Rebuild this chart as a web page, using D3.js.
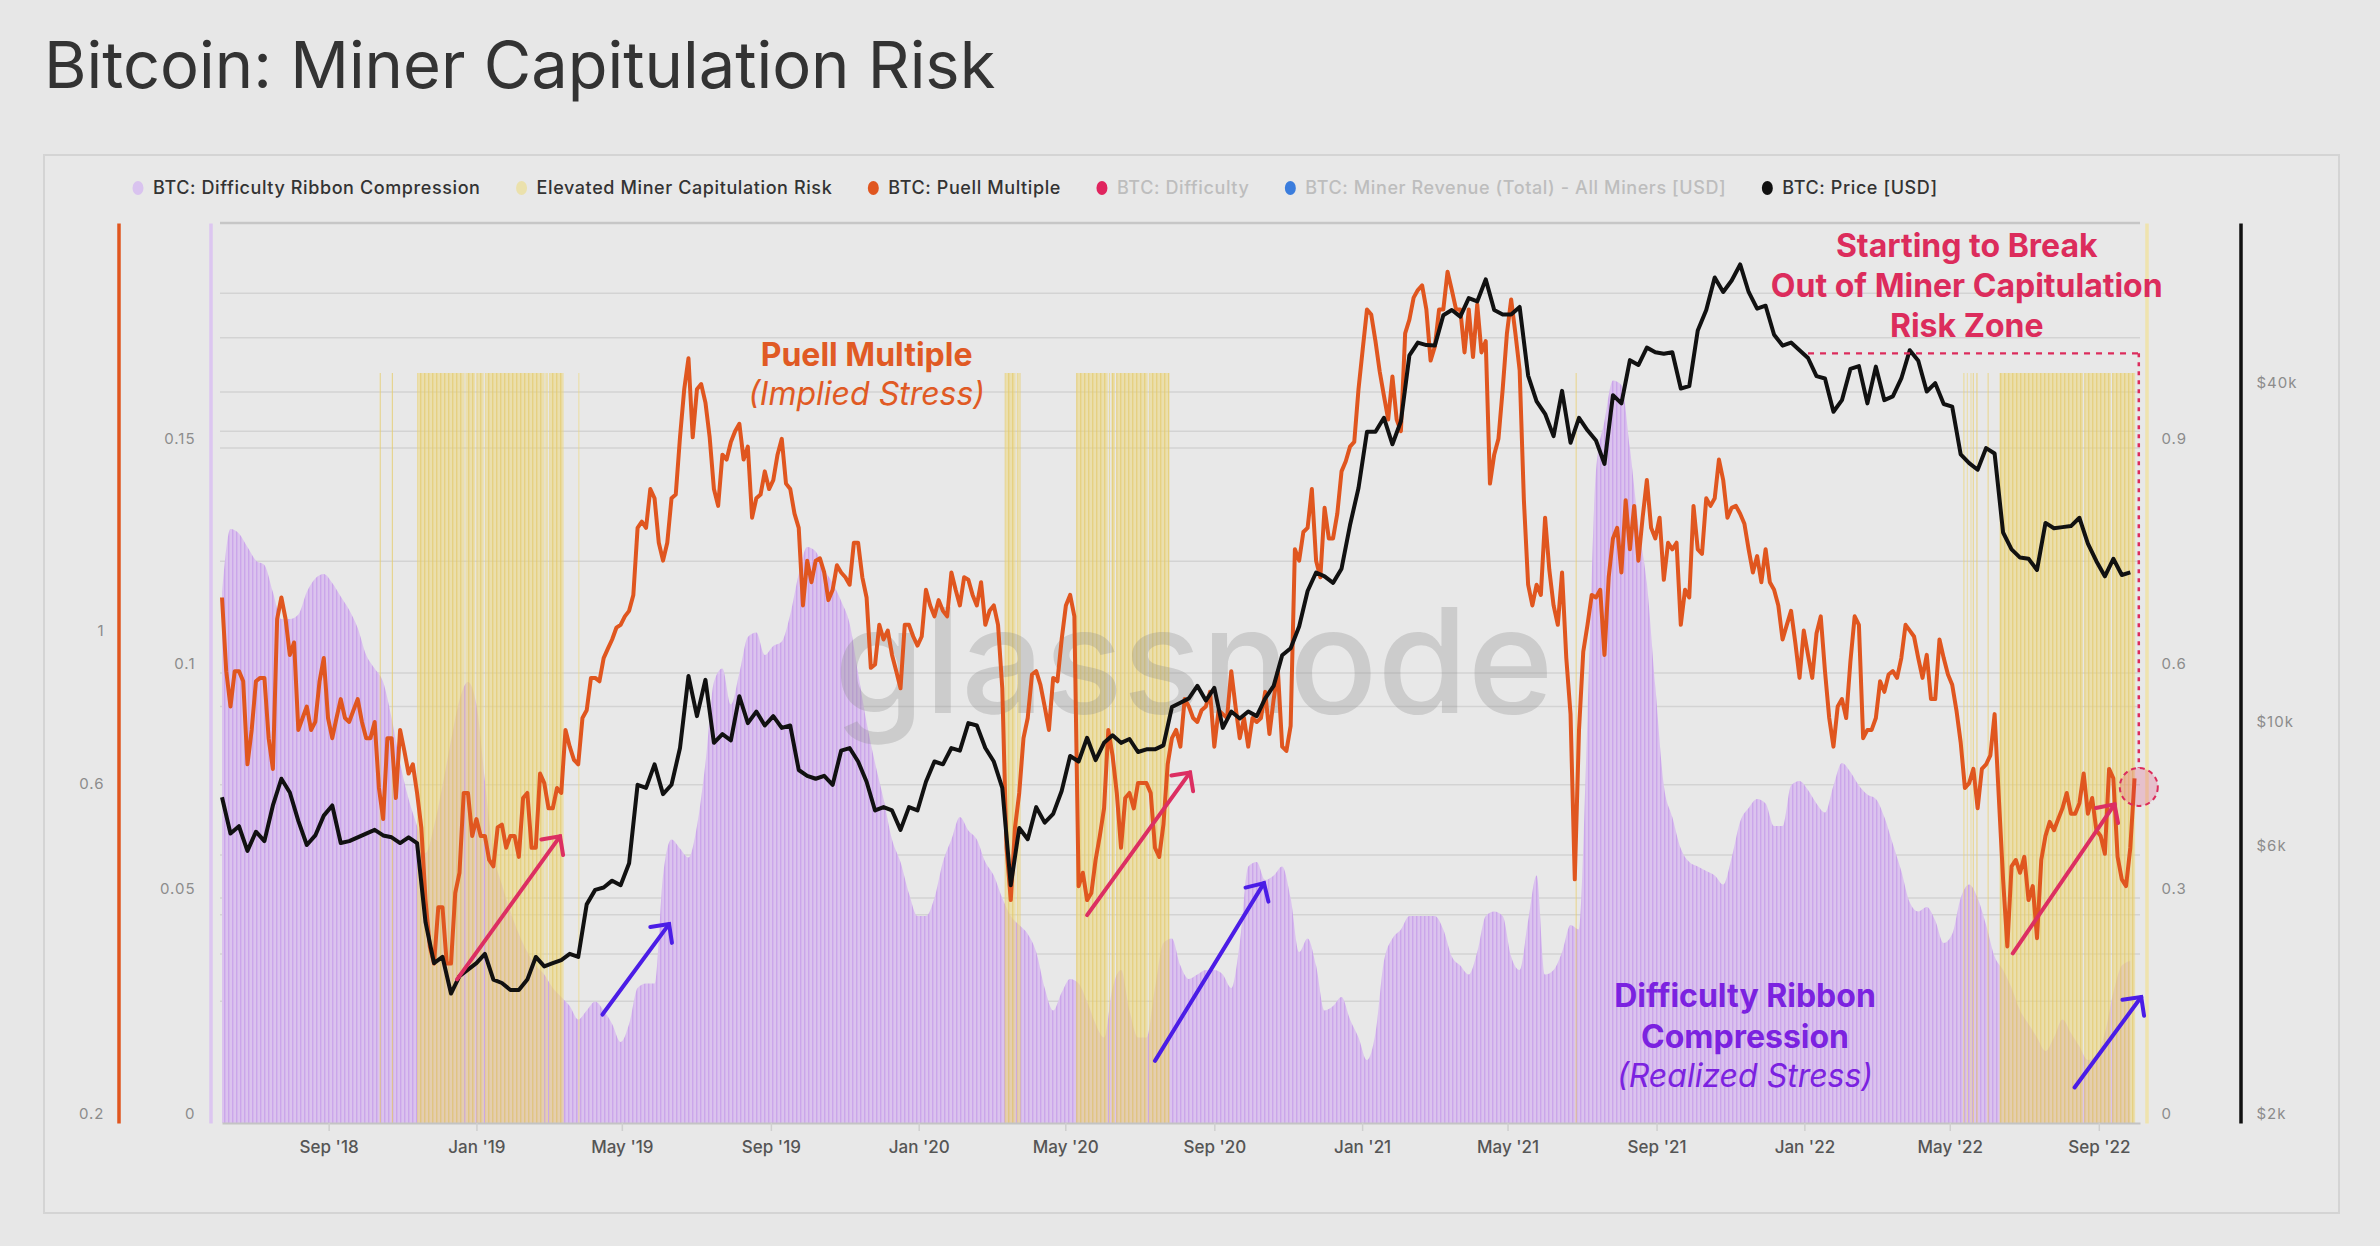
<!DOCTYPE html>
<html>
<head>
<meta charset="utf-8">
<style>
  body { margin: 0; background: #e7e7e7; }
  svg { display: block; }
  text { font-family: Inter, "Noto Sans", sans-serif; }
</style>
</head>
<body>
<svg id="chart" width="2380" height="1246"></svg>
<script src="https://cdn.jsdelivr.net/npm/d3@7"></script>
<script>
const startDate = "2018-06-05";

// puell multiple, read twice a week (every 3.5 days from startDate)
const puell = [
  1.15, 0.90, 0.80, 0.90, 0.90, 0.87, 0.66, 0.74, 0.87, 0.88,
  0.88, 0.72, 0.65, 1.07, 1.15, 1.07, 0.95, 0.99, 0.74, 0.77,
  0.80, 0.74, 0.76, 0.87, 0.94, 0.77, 0.72, 0.77, 0.82, 0.77,
  0.76, 0.79, 0.82, 0.76, 0.72, 0.72, 0.76, 0.61, 0.55, 0.72,
  0.72, 0.59, 0.74, 0.69, 0.64, 0.66, 0.60, 0.535, 0.42, 0.36,
  0.34, 0.41, 0.41, 0.34, 0.34, 0.43, 0.46, 0.60, 0.60, 0.52,
  0.55, 0.52, 0.52, 0.48, 0.47, 0.535, 0.54, 0.50, 0.52, 0.52,
  0.485, 0.59, 0.60, 0.50, 0.50, 0.64, 0.62, 0.57, 0.57, 0.61,
  0.60, 0.74, 0.70, 0.67, 0.66, 0.77, 0.79, 0.88, 0.88, 0.87,
  0.94, 0.97, 1.00, 1.04, 1.05, 1.08, 1.10, 1.16, 1.45, 1.48,
  1.45, 1.65, 1.60, 1.38, 1.30, 1.38, 1.60, 1.62, 1.96, 2.30,
  2.55, 1.96, 2.30, 2.34, 2.20, 1.96, 1.65, 1.56, 1.85, 1.82,
  1.93, 2.00, 2.05, 1.82, 1.90, 1.50, 1.60, 1.62, 1.75, 1.65,
  1.70, 1.85, 1.95, 1.68, 1.65, 1.52, 1.45, 1.12, 1.30, 1.21,
  1.30, 1.31, 1.25, 1.14, 1.18, 1.28, 1.25, 1.23, 1.20, 1.38,
  1.38, 1.23, 1.15, 0.91, 0.92, 1.05, 1.00, 1.03, 0.95, 0.90,
  0.85, 1.05, 1.05, 1.01, 0.98, 1.01, 1.18, 1.12, 1.08, 1.14,
  1.10, 1.08, 1.25, 1.18, 1.12, 1.23, 1.22, 1.16, 1.12, 1.21,
  1.05, 1.10, 1.12, 1.05, 0.85, 0.50, 0.42, 0.535, 0.60, 0.72,
  0.77, 0.89, 0.90, 0.86, 0.80, 0.74, 0.88, 0.87, 1.00, 1.12,
  1.16, 1.08, 0.44, 0.46, 0.42, 0.43, 0.48, 0.52, 0.57, 0.74,
  0.68, 0.60, 0.50, 0.59, 0.60, 0.57, 0.62, 0.62, 0.62, 0.60,
  0.50, 0.485, 0.54, 0.66, 0.72, 0.74, 0.70, 0.82, 0.80, 0.77,
  0.76, 0.79, 0.80, 0.84, 0.70, 0.79, 0.78, 0.77, 0.90, 0.80,
  0.72, 0.77, 0.70, 0.77, 0.76, 0.77, 0.84, 0.73, 0.82, 0.90,
  0.70, 0.69, 0.75, 1.35, 1.30, 1.43, 1.45, 1.65, 1.30, 1.23,
  1.55, 1.40, 1.40, 1.52, 1.75, 1.81, 1.90, 1.93, 2.30, 2.63,
  3.00, 2.95, 2.70, 2.44, 2.25, 2.08, 2.40, 2.08, 2.00, 2.77,
  2.90, 3.12, 3.20, 3.25, 3.00, 2.53, 2.65, 3.00, 3.00, 3.40,
  3.20, 3.00, 3.00, 2.60, 3.00, 2.56, 3.05, 2.60, 2.70, 1.68,
  1.85, 1.95, 2.30, 2.77, 3.10, 2.77, 2.45, 1.59, 1.20, 1.12,
  1.20, 1.16, 1.50, 1.26, 1.12, 1.05, 1.25, 0.94, 0.78, 0.45,
  0.74, 0.96, 1.05, 1.16, 1.15, 1.18, 0.95, 1.23, 1.40, 1.45,
  1.25, 1.59, 1.35, 1.56, 1.30, 1.50, 1.70, 1.45, 1.40, 1.50,
  1.22, 1.38, 1.35, 1.38, 1.05, 1.18, 1.15, 1.56, 1.35, 1.33,
  1.60, 1.56, 1.60, 1.82, 1.70, 1.50, 1.55, 1.56, 1.52, 1.47,
  1.35, 1.25, 1.32, 1.21, 1.35, 1.21, 1.18, 1.12, 1.00, 1.05,
  1.10, 0.99, 0.88, 1.03, 0.95, 0.88, 1.02, 1.08, 0.90, 0.77,
  0.70, 0.80, 0.82, 0.77, 0.93, 1.08, 1.05, 0.72, 0.74, 0.74,
  0.77, 0.87, 0.84, 0.89, 0.90, 0.88, 0.94, 1.05, 1.03, 1.01,
  0.94, 0.88, 0.95, 0.82, 0.82, 1.00, 0.94, 0.89, 0.86, 0.79,
  0.71, 0.61, 0.62, 0.65, 0.57, 0.65, 0.66, 0.68, 0.78, 0.59,
  0.45, 0.36, 0.47, 0.48, 0.46, 0.485, 0.42, 0.44, 0.37, 0.48,
  0.52, 0.545, 0.53, 0.55, 0.57, 0.60, 0.56, 0.56, 0.58, 0.64,
  0.56, 0.59, 0.53, 0.52, 0.49, 0.65, 0.63, 0.485, 0.45, 0.44,
  0.50, 0.63
];

// weekly samples from startDate
const price = [
  7600, 6550, 6750, 6100, 6600, 6350, 7350, 8200, 7750, 6900,
  6250, 6500, 7050, 7350, 6300, 6350, 6450, 6550, 6650, 6500,
  6450, 6300, 6450, 6300, 4550, 3850, 3950, 3400, 3650, 3750,
  3850, 4000, 3600, 3550, 3450, 3450, 3600, 3950, 3800, 3850,
  3900, 4000, 3950, 4900, 5200, 5250, 5400, 5300, 5800, 8000,
  7900, 8700, 7700, 8000, 9300, 12500, 10600, 12300, 9500, 9850,
  9600, 11500, 10300, 10800, 10200, 10600, 10100, 10200, 8500, 8300,
  8200, 8300, 8000, 9200, 9300, 8800, 8100, 7200, 7300, 7200,
  6650, 7300, 7200, 8100, 8800, 8700, 9300, 9200, 10300, 10200,
  9300, 8800, 7900, 5300, 6700, 6400, 7300, 6850, 7100, 7800,
  9000, 8800, 9700, 8850, 9500, 9800, 9500, 9650, 9150, 9250,
  9250, 9400, 11000, 11200, 11400, 12000, 11300, 11900, 10100, 10800,
  10500, 10800, 10600, 11400, 12000, 13600, 14000, 15300, 17700, 19100,
  18800, 18300, 19400, 23200, 27000, 34000, 34000, 36000, 32300, 35500,
  46500, 49000, 48500, 48400, 54800, 56000, 54500, 58800, 58000, 63500,
  56000, 55000, 55000, 56700, 42800, 38500, 36600, 33400, 40200, 32500,
  36000, 34200, 32800, 29800, 39500, 38200, 45600, 44700, 48000, 47100,
  46800, 47100, 40600, 41000, 51500, 56000, 64000, 60300, 63200, 67500,
  60300, 56300, 57000, 50600, 48400, 49000, 47500, 46000, 42700, 42300,
  36900, 38700, 44000, 44500, 38200, 44400, 38700, 39300, 42300, 47500,
  45500, 40100, 41500, 38100, 37700, 31000, 29900, 29100, 31800, 31100,
  22500, 21000, 20300, 20200, 19300, 23400, 22900, 23000, 23100, 23900,
  21500, 20000, 18800, 20200, 18900, 19100
];

const ribbon = [
  0.118, 0.132, 0.131, 0.128, 0.125, 0.124, 0.118, 0.112, 0.112, 0.113,
  0.118, 0.121, 0.122, 0.120, 0.117, 0.114, 0.110, 0.104, 0.101, 0.098,
  0.090, 0.080, 0.072, 0.066, 0.060, 0.066, 0.075, 0.085, 0.094, 0.098,
  0.093, 0.076, 0.060, 0.053, 0.047, 0.042, 0.038, 0.035, 0.033, 0.030,
  0.028, 0.026, 0.023, 0.025, 0.027, 0.025, 0.022, 0.018, 0.022, 0.030,
  0.031, 0.031, 0.055, 0.063, 0.061, 0.059, 0.066, 0.080, 0.098, 0.101,
  0.093, 0.100, 0.108, 0.109, 0.104, 0.106, 0.107, 0.113, 0.122, 0.128,
  0.127, 0.123, 0.120, 0.116, 0.111, 0.100, 0.089, 0.080, 0.072, 0.063,
  0.058, 0.051, 0.046, 0.046, 0.050, 0.058, 0.063, 0.068, 0.065, 0.063,
  0.058, 0.055, 0.050, 0.046, 0.044, 0.042, 0.038, 0.030, 0.025, 0.029,
  0.032, 0.031, 0.027, 0.022, 0.019, 0.030, 0.034, 0.025, 0.019, 0.019,
  0.030, 0.040, 0.041, 0.035, 0.032, 0.033, 0.034, 0.034, 0.033, 0.030,
  0.040, 0.057, 0.058, 0.054, 0.055, 0.057, 0.050, 0.038, 0.041, 0.035,
  0.025, 0.026, 0.028, 0.023, 0.019, 0.014, 0.020, 0.036, 0.041, 0.043,
  0.046, 0.046, 0.046, 0.046, 0.043, 0.037, 0.035, 0.033, 0.038, 0.046,
  0.047, 0.046, 0.037, 0.034, 0.045, 0.055, 0.033, 0.034, 0.038, 0.044,
  0.043, 0.090, 0.145, 0.156, 0.165, 0.164, 0.150, 0.133, 0.120, 0.097,
  0.075, 0.068, 0.061, 0.058, 0.057, 0.056, 0.055, 0.053, 0.059, 0.067,
  0.070, 0.072, 0.071, 0.066, 0.066, 0.075, 0.076, 0.074, 0.071, 0.069,
  0.075, 0.080, 0.078, 0.075, 0.073, 0.072, 0.068, 0.062, 0.056, 0.049,
  0.047, 0.048, 0.045, 0.040, 0.042, 0.050, 0.053, 0.050, 0.044, 0.037,
  0.034, 0.030, 0.025, 0.022, 0.019, 0.016, 0.019, 0.023, 0.020, 0.017,
  0.014, 0.015, 0.020, 0.029, 0.035, 0.036
];

// days flagged as elevated miner capitulation risk (value 1)
const riskRanges = [
  ["2018-10-13", "2018-10-13"], ["2018-10-23", "2018-10-23"],
  ["2018-11-13", "2018-12-21"], ["2018-12-23", "2018-12-30"],
  ["2019-01-01", "2019-01-06"], ["2019-01-08", "2019-02-25"],
  ["2019-02-27", "2019-02-28"], ["2019-03-02", "2019-03-13"],
  ["2019-03-26", "2019-03-26"],
  ["2020-03-12", "2020-03-20"], ["2020-03-22", "2020-03-24"],
  ["2020-05-10", "2020-06-04"], ["2020-06-06", "2020-06-06"],
  ["2020-06-08", "2020-06-10"], ["2020-06-12", "2020-07-07"],
  ["2020-07-09", "2020-07-25"],
  ["2021-06-26", "2021-06-26"],
  ["2022-05-12", "2022-05-12"], ["2022-05-15", "2022-05-15"],
  ["2022-05-18", "2022-05-18"], ["2022-05-20", "2022-05-20"],
  ["2022-05-23", "2022-05-23"], ["2022-06-01", "2022-06-01"],
  ["2022-06-11", "2022-08-18"], ["2022-08-20", "2022-09-10"],
  ["2022-09-12", "2022-09-30"]
];

const xTickDates = ["2018-09-01", "2019-01-01", "2019-05-01", "2019-09-01", "2020-01-01",
  "2020-05-01", "2020-09-01", "2021-01-01", "2021-05-01", "2021-09-01",
  "2022-01-01", "2022-05-01", "2022-09-01"];
const xTickLabels = ["Sep '18", "Jan '19", "May '19", "Sep '19", "Jan '20", "May '20",
  "Sep '20", "Jan '21", "May '21", "Sep '21", "Jan '22", "May '22", "Sep '22"];

const puellTicks = [0.2, 0.6, 1];
const ribbonTicks = [0, 0.05, 0.1, 0.15];
const riskTicks = [0, 0.3, 0.6, 0.9];
const priceTicks = [2000, 6000, 10000, 40000];

const priceGrid = [4000, 6000, 8000, 20000, 40000, 50000, 60000];
const ribbonGrid = [0.05, 0.1, 0.15];
const puellGrid = [0.3, 0.4, 0.8, 2];

const legendItems = [
  { label: "BTC: Difficulty Ribbon Compression", color: "#d9c3ef", on: true },
  { label: "Elevated Miner Capitulation Risk", color: "#ebe1ac", on: true },
  { label: "BTC: Puell Multiple", color: "#e0561f", on: true },
  { label: "BTC: Difficulty", color: "#e0245e", on: false },
  { label: "BTC: Miner Revenue (Total) - All Miners [USD]", color: "#3b7ddd", on: false },
  { label: "BTC: Price [USD]", color: "#111111", on: true }
];

// annotations, placed in date / ribbon-axis units
const arrows = [
  { from: ["2018-12-16", 0.0319], to: ["2019-03-11", 0.0637], color: "#dc2f62" },
  { from: ["2020-05-19", 0.0462], to: ["2020-08-12", 0.0779], color: "#dc2f62" },
  { from: ["2022-06-22", 0.0377], to: ["2022-09-14", 0.0708], color: "#dc2f62" },
  { from: ["2019-04-15", 0.0241], to: ["2019-06-09", 0.0442], color: "#4b1de6" },
  { from: ["2020-07-14", 0.0138], to: ["2020-10-12", 0.0533], color: "#4b1de6" },
  { from: ["2022-08-12", 0.0079], to: ["2022-10-06", 0.0280], color: "#4b1de6" }
];

const notes = [
  { text: "Puell Multiple", date: "2019-11-19", v: 0.1683, color: "#e05a24", bold: true },
  { text: "(Implied Stress)", date: "2019-11-19", v: 0.1596, color: "#e05a24", bold: false },
  { text: "Starting to Break", date: "2022-05-15", v: 0.1924, color: "#dc2c5c", bold: true },
  { text: "Out of Miner Capitulation", date: "2022-05-15", v: 0.1835, color: "#dc2c5c", bold: true },
  { text: "Risk Zone", date: "2022-05-15", v: 0.1746, color: "#dc2c5c", bold: true },
  { text: "Difficulty Ribbon", date: "2021-11-13", v: 0.0258, color: "#7b22e0", bold: true },
  { text: "Compression", date: "2021-11-13", v: 0.0166, color: "#7b22e0", bold: true },
  { text: "(Realized Stress)", date: "2021-11-13", v: 0.0080, color: "#7b22e0", bold: false }
];

const zoneStart = "2022-01-04";
const zoneEnd = "2022-10-04";
const zonePrice = 46900;
const zonePuell = 0.612;

const parse = d3.utcParse("%Y-%m-%d");
const start = parse(startDate);
const weekly = price.map((p, i) => ({
  date: d3.utcDay.offset(start, 7 * i),
  price: p,
  ribbon: ribbon[i]
}));
const puellSeries = puell.map((v, i) => ({
  date: d3.utcHour.offset(start, 84 * i),
  puell: v
}));

const svg = d3.select("#chart");
const plotTop = 223, plotBottom = 1123, plotLeft = 222, plotRight = 2140;

const x = d3.scaleUtc().domain([parse("2018-06-05"), parse("2022-10-05")]).range([plotLeft, plotRight]);
const yRibbon = d3.scaleLinear().domain([0, 0.2]).range([plotBottom, plotTop]);
const yRisk = d3.scaleLinear().domain([0, 1.2]).range([plotBottom, plotTop]);
const yPuell = d3.scaleLog().domain([0.2, 4]).range([plotBottom, plotTop]);
const yPrice = d3.scaleLog().domain([2000, 80000]).range([plotBottom, plotTop]);

// title and panel
svg.append("text")
  .attr("x", 44).attr("y", 88)
  .attr("font-size", 65).attr("fill", "#333")
  .text("Bitcoin: Miner Capitulation Risk");

svg.append("rect")
  .attr("x", 44).attr("y", 155).attr("width", 2295).attr("height", 1058)
  .attr("fill", "#e8e8e8").attr("stroke", "#d4d4d4").attr("stroke-width", 2);

// stripe patterns for the column-like fills
const defs = svg.append("defs");
const purplePat = defs.append("pattern").attr("id", "purpleStripe")
  .attr("patternUnits", "userSpaceOnUse").attr("width", 4).attr("height", 20);
purplePat.append("rect").attr("width", 4).attr("height", 20).attr("fill", "#dbc3ee");
purplePat.append("rect").attr("width", 1.4).attr("height", 20).attr("fill", "#cba6ea");

const yellowPat = defs.append("pattern").attr("id", "yellowStripe")
  .attr("patternUnits", "userSpaceOnUse").attr("width", 4).attr("height", 20);
yellowPat.append("rect").attr("width", 4).attr("height", 20).attr("fill", "#ecd77c").attr("fill-opacity", 0.55);
yellowPat.append("rect").attr("width", 1.4).attr("height", 20).attr("fill", "#e2c866").attr("fill-opacity", 0.6);

// gridlines
const grid = svg.append("g").attr("class", "grid");
const gridYs = [plotTop]
  .concat(priceGrid.map(yPrice))
  .concat(ribbonGrid.map(yRibbon))
  .concat(puellGrid.map(yPuell));
grid.selectAll("line").data(gridYs).join("line")
  .attr("x1", plotLeft - 2).attr("x2", plotRight)
  .attr("y1", d => d).attr("y2", d => d)
  .attr("stroke", (d, i) => i === 0 ? "#c6c6c6" : "#d3d3d3")
  .attr("stroke-width", (d, i) => i === 0 ? 2.5 : 1.5);

// difficulty ribbon compression
svg.append("path")
  .datum(weekly)
  .attr("fill", "url(#purpleStripe)")
  .attr("d", d3.area()
    .x(d => x(d.date))
    .y0(yRibbon(0))
    .y1(d => yRibbon(d.ribbon))
    .curve(d3.curveMonotoneX));

// elevated risk bands
svg.append("g").selectAll("rect").data(riskRanges).join("rect")
  .attr("x", d => x(parse(d[0])))
  .attr("width", d => x(d3.utcDay.offset(parse(d[1]), 1)) - x(parse(d[0])))
  .attr("y", yRisk(1))
  .attr("height", yRisk(0) - yRisk(1))
  .attr("fill", "url(#yellowStripe)");

// watermark
svg.append("text")
  .attr("x", x(parse("2020-08-15"))).attr("y", 713)
  .attr("text-anchor", "middle")
  .attr("font-size", 146).attr("font-weight", 500)
  .attr("fill", "#8a8a8a").attr("fill-opacity", 0.3)
  .text("glassnode");

// puell multiple
svg.append("path")
  .datum(puellSeries)
  .attr("fill", "none")
  .attr("stroke", "#e0561f")
  .attr("stroke-width", 4)
  .attr("stroke-linejoin", "round")
  .attr("d", d3.line().x(d => x(d.date)).y(d => yPuell(d.puell)));

// price
svg.append("path")
  .datum(weekly)
  .attr("fill", "none")
  .attr("stroke", "#111")
  .attr("stroke-width", 4)
  .attr("stroke-linejoin", "round")
  .attr("d", d3.line().x(d => x(d.date)).y(d => yPrice(d.price)));

// x axis
const xAxis = svg.append("g")
  .attr("transform", `translate(0,${plotBottom})`)
  .call(d3.axisBottom(x)
    .tickValues(xTickDates.map(parse))
    .tickFormat((d, i) => xTickLabels[i])
    .tickSize(8).tickSizeOuter(0).tickPadding(10));
xAxis.select(".domain").attr("stroke", "#c4c4c4").attr("stroke-width", 2);
xAxis.selectAll(".tick line").attr("stroke", "#cfcfcf").attr("stroke-width", 1.5);
xAxis.selectAll(".tick text")
  .attr("font-family", "Inter, sans-serif").attr("font-size", 17)
  .attr("font-weight", 500).attr("fill", "#555");

// y axes
function styleAxis(g, color) {
  g.select(".domain").attr("stroke", color).attr("stroke-width", 3.5);
  g.selectAll(".tick line").remove();
  g.selectAll(".tick text")
    .attr("font-family", "Inter, sans-serif").attr("font-size", 15)
    .attr("letter-spacing", 1).attr("fill", "#8c8c8c")
    .attr("transform", "translate(0,-9)");
}

svg.append("g").attr("transform", "translate(118.5,0)")
  .call(d3.axisLeft(yPuell).tickValues(puellTicks).tickFormat(d3.format("~g"))
    .tickSize(0).tickPadding(14))
  .call(g => styleAxis(g, "#e0561f"));

svg.append("g").attr("transform", "translate(210.5,0)")
  .call(d3.axisLeft(yRibbon).tickValues(ribbonTicks).tickFormat(d3.format("~g"))
    .tickSize(0).tickPadding(15))
  .call(g => styleAxis(g, "#dcc6f0"));

svg.append("g").attr("transform", "translate(2146.5,0)")
  .call(d3.axisRight(yRisk).tickValues(riskTicks).tickFormat(d3.format("~g"))
    .tickSize(0).tickPadding(15))
  .call(g => styleAxis(g, "#efe3ae"));

svg.append("g").attr("transform", "translate(2240.5,0)")
  .call(d3.axisRight(yPrice).tickValues(priceTicks).tickFormat(d => `$${d / 1000}k`)
    .tickSize(0).tickPadding(16))
  .call(g => styleAxis(g, "#111"));

// legend
const legend = svg.append("g");
let lx = 138;
legendItems.forEach(item => {
  legend.append("ellipse")
    .attr("cx", lx).attr("cy", 188).attr("rx", 5.5).attr("ry", 7)
    .attr("fill", item.color);
  const t = legend.append("text")
    .attr("x", lx + 15).attr("y", 194)
    .attr("font-size", 18).attr("font-weight", 500).attr("letter-spacing", 0.6)
    .attr("fill", item.on ? "#333" : "#bdbdbd")
    .text(item.label);
  lx += 15 + t.node().getComputedTextLength() + 41;
});

// zone marker
const zoneY = yPrice(zonePrice);
const circleX = x(parse(zoneEnd));
const circleY = yPuell(zonePuell);
svg.append("line")
  .attr("x1", x(parse(zoneStart))).attr("x2", circleX)
  .attr("y1", zoneY).attr("y2", zoneY)
  .attr("stroke", "#dc2c5c").attr("stroke-width", 2.2).attr("stroke-dasharray", "6,6");
svg.append("line")
  .attr("x1", circleX).attr("x2", circleX)
  .attr("y1", zoneY).attr("y2", circleY - 19)
  .attr("stroke", "#dc2c5c").attr("stroke-width", 2.5).attr("stroke-dasharray", "4,5");
svg.append("circle")
  .attr("cx", circleX).attr("cy", circleY).attr("r", 19)
  .attr("fill", "#e0245e").attr("fill-opacity", 0.2)
  .attr("stroke", "#dc2c5c").attr("stroke-width", 2).attr("stroke-dasharray", "5,4");

// arrows
const arrowG = svg.append("g");
arrows.forEach(a => {
  const x1 = x(parse(a.from[0])), y1 = yRibbon(a.from[1]);
  const x2 = x(parse(a.to[0])), y2 = yRibbon(a.to[1]);
  const ang = Math.atan2(y2 - y1, x2 - x1);
  const len = 19;
  const h1 = [x2 - len * Math.cos(ang - Math.PI / 4), y2 - len * Math.sin(ang - Math.PI / 4)];
  const h2 = [x2 - len * Math.cos(ang + Math.PI / 4), y2 - len * Math.sin(ang + Math.PI / 4)];
  arrowG.append("line")
    .attr("x1", x1).attr("y1", y1).attr("x2", x2).attr("y2", y2)
    .attr("stroke", a.color).attr("stroke-width", 4).attr("stroke-linecap", "round");
  arrowG.append("path")
    .attr("d", `M${h1[0]},${h1[1]}L${x2},${y2}L${h2[0]},${h2[1]}`)
    .attr("fill", "none").attr("stroke", a.color).attr("stroke-width", 4)
    .attr("stroke-linejoin", "miter").attr("stroke-linecap", "round");
});

// annotation text
svg.append("g").selectAll("text").data(notes).join("text")
  .attr("x", d => x(parse(d.date)))
  .attr("y", d => yRibbon(d.v))
  .attr("text-anchor", "middle")
  .attr("font-size", 32)
  .attr("font-weight", d => d.bold ? 700 : 400)
  .attr("font-style", d => d.bold ? "normal" : "italic")
  .attr("fill", d => d.color)
  .text(d => d.text);
</script>
</body>
</html>
